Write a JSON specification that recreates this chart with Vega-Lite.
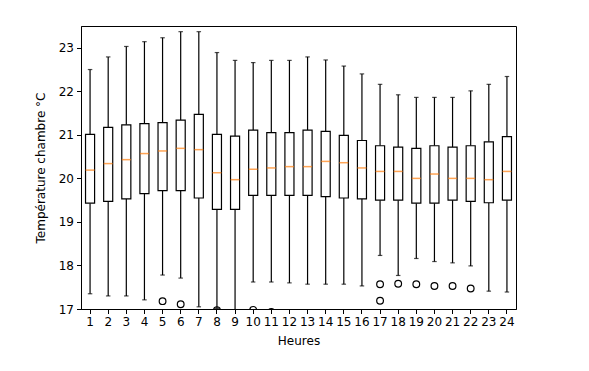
{
  "$schema": "https://vega.github.io/schema/vega-lite/v6.json",
  "width": 435,
  "height": 283,
  "autosize": "none",
  "padding": {"left": 81, "top": 26, "right": 73, "bottom": 62},
  "background": "white",
  "config": {
    "font": "DejaVu Sans",
    "view": {"stroke": "black", "strokeWidth": 1},
    "axis": {
      "grid": false,
      "domainColor": "black",
      "tickColor": "black",
      "tickSize": 4.5,
      "labelColor": "black",
      "labelFontSize": 12,
      "labelFont": "DejaVu Sans",
      "labelPadding": 3,
      "titleFont": "DejaVu Sans",
      "titleFontSize": 12,
      "titleFontWeight": "normal",
      "titleColor": "black"
    }
  },
  "datasets": {
    "boxes": [
      {"hour": 1, "lo": 17.35, "q1": 19.43, "med": 20.19, "q3": 21.01, "hi": 22.50},
      {"hour": 2, "lo": 17.30, "q1": 19.47, "med": 20.34, "q3": 21.17, "hi": 22.79},
      {"hour": 3, "lo": 17.30, "q1": 19.53, "med": 20.43, "q3": 21.23, "hi": 23.03},
      {"hour": 4, "lo": 17.21, "q1": 19.65, "med": 20.57, "q3": 21.26, "hi": 23.14},
      {"hour": 5, "lo": 17.78, "q1": 19.72, "med": 20.63, "q3": 21.28, "hi": 23.23},
      {"hour": 6, "lo": 17.71, "q1": 19.72, "med": 20.69, "q3": 21.34, "hi": 23.37},
      {"hour": 7, "lo": 17.05, "q1": 19.55, "med": 20.66, "q3": 21.47, "hi": 23.37},
      {"hour": 8, "lo": 17.01, "q1": 19.29, "med": 20.13, "q3": 21.01, "hi": 22.89},
      {"hour": 9, "lo": 16.80, "q1": 19.29, "med": 19.97, "q3": 20.97, "hi": 22.71},
      {"hour": 10, "lo": 17.62, "q1": 19.61, "med": 20.21, "q3": 21.11, "hi": 22.66},
      {"hour": 11, "lo": 17.62, "q1": 19.61, "med": 20.24, "q3": 21.05, "hi": 22.71},
      {"hour": 12, "lo": 17.60, "q1": 19.61, "med": 20.27, "q3": 21.05, "hi": 22.71},
      {"hour": 13, "lo": 17.57, "q1": 19.61, "med": 20.27, "q3": 21.11, "hi": 22.79},
      {"hour": 14, "lo": 17.57, "q1": 19.58, "med": 20.39, "q3": 21.08, "hi": 22.72},
      {"hour": 15, "lo": 17.57, "q1": 19.55, "med": 20.36, "q3": 20.99, "hi": 22.58},
      {"hour": 16, "lo": 17.53, "q1": 19.53, "med": 20.24, "q3": 20.87, "hi": 22.40},
      {"hour": 17, "lo": 18.23, "q1": 19.50, "med": 20.16, "q3": 20.75, "hi": 22.16},
      {"hour": 18, "lo": 17.77, "q1": 19.50, "med": 20.16, "q3": 20.72, "hi": 21.92},
      {"hour": 19, "lo": 18.16, "q1": 19.43, "med": 20.00, "q3": 20.69, "hi": 21.86},
      {"hour": 20, "lo": 18.09, "q1": 19.43, "med": 20.10, "q3": 20.75, "hi": 21.86},
      {"hour": 21, "lo": 18.06, "q1": 19.50, "med": 20.00, "q3": 20.72, "hi": 21.86},
      {"hour": 22, "lo": 17.99, "q1": 19.47, "med": 20.00, "q3": 20.75, "hi": 22.01},
      {"hour": 23, "lo": 17.41, "q1": 19.44, "med": 19.97, "q3": 20.84, "hi": 22.16},
      {"hour": 24, "lo": 17.39, "q1": 19.50, "med": 20.16, "q3": 20.96, "hi": 22.34}
    ],
    "outliers": [
      {"hour": 5, "value": 17.18},
      {"hour": 6, "value": 17.11},
      {"hour": 8, "value": 16.97},
      {"hour": 10, "value": 16.98},
      {"hour": 11, "value": 16.93},
      {"hour": 17, "value": 17.57},
      {"hour": 17, "value": 17.19},
      {"hour": 18, "value": 17.58},
      {"hour": 19, "value": 17.57},
      {"hour": 20, "value": 17.53},
      {"hour": 21, "value": 17.53},
      {"hour": 22, "value": 17.47}
    ]
  },
  "encoding": {
    "x": {
      "field": "hour",
      "type": "ordinal",
      "scale": {"domain": [1,2,3,4,5,6,7,8,9,10,11,12,13,14,15,16,17,18,19,20,21,22,23,24], "paddingInner": 0, "paddingOuter": 0},
      "axis": {"title": "Heures", "labelAngle": 0, "bandPosition": 0.5, "titlePadding": 8}
    }
  },
  "layer": [
    {
      "data": {"name": "boxes"},
      "mark": {"type": "rule", "clip": true, "color": "black", "strokeWidth": 1.2},
      "encoding": {
        "y": {"field": "lo", "type": "quantitative", "scale": {"domain": [17, 23.5], "nice": false, "zero": false},
          "axis": {"title": "Température chambre °C", "values": [17,18,19,20,21,22,23], "titlePadding": 11}},
        "y2": {"field": "q1"}
      }
    },
    {
      "data": {"name": "boxes"},
      "mark": {"type": "rule", "clip": true, "color": "black", "strokeWidth": 1.2},
      "encoding": {
        "y": {"field": "q3", "type": "quantitative"},
        "y2": {"field": "hi"}
      }
    },
    {
      "data": {"name": "boxes"},
      "mark": {"type": "tick", "clip": true, "color": "black", "size": 4.5, "thickness": 1.2},
      "encoding": {"y": {"field": "lo", "type": "quantitative"}}
    },
    {
      "data": {"name": "boxes"},
      "mark": {"type": "tick", "clip": true, "color": "black", "size": 4.5, "thickness": 1.2},
      "encoding": {"y": {"field": "hi", "type": "quantitative"}}
    },
    {
      "data": {"name": "boxes"},
      "mark": {"type": "bar", "clip": true, "fill": "white", "stroke": "black", "strokeWidth": 1.2, "width": {"band": 0.5}},
      "encoding": {
        "y": {"field": "q1", "type": "quantitative"},
        "y2": {"field": "q3"}
      }
    },
    {
      "data": {"name": "boxes"},
      "mark": {"type": "tick", "clip": true, "color": "#ff7f0e", "size": 9, "thickness": 1.5},
      "encoding": {"y": {"field": "med", "type": "quantitative"}}
    },
    {
      "data": {"name": "outliers"},
      "mark": {"type": "point", "clip": true, "shape": "circle", "filled": false, "stroke": "black", "strokeWidth": 1.2, "size": 45, "opacity": 1},
      "encoding": {"y": {"field": "value", "type": "quantitative"}}
    }
  ]
}
